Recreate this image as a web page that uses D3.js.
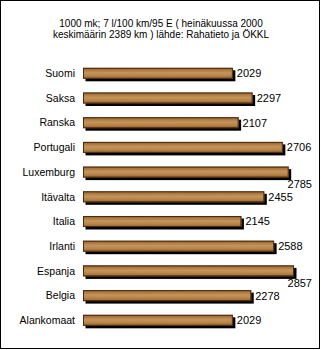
<!DOCTYPE html>
<html><head><meta charset="utf-8">
<script src="https://cdn.jsdelivr.net/npm/d3@7"></script>
<style>html,body{margin:0;padding:0;background:#fff;}svg{display:block;}</style>
</head><body>
<script>
const categories = ["Suomi","Saksa","Ranska","Portugali","Luxemburg","Itävalta","Italia","Irlanti","Espanja","Belgia","Alankomaat"];
const values = [2029,2297,2107,2706,2785,2455,2145,2588,2857,2278,2029];
const titleLines = ["1000 mk; 7 l/100 km/95 E ( heinäkuussa 2000","keskimäärin 2389 km ) lähde: Rahatieto ja ÖKKL"];

const W = 321, H = 350;
const svg = d3.select("body").append("svg").attr("width", W).attr("height", H);
const font = "'Liberation Sans', Arial, sans-serif";

const defs = svg.append("defs");
const grad = defs.append("linearGradient").attr("id","wood").attr("x1",0).attr("y1",0).attr("x2",0).attr("y2",1);
[[0,"#7c4e22"],[0.18,"#a8723a"],[0.45,"#c8955a"],[0.7,"#b98448"],[0.88,"#a06a32"],[1,"#86562a"]]
  .forEach(([o,c]) => grad.append("stop").attr("offset",o).attr("stop-color",c));
const f = defs.append("filter").attr("id","grain").attr("x",0).attr("y",0).attr("width",1).attr("height",1);
f.append("feTurbulence").attr("type","fractalNoise").attr("baseFrequency","0.2 0.8").attr("numOctaves",2).attr("seed",5).attr("result","n");
f.append("feColorMatrix").attr("in","n").attr("type","matrix")
  .attr("values","0 0 0 0 0.45  0 0 0 0 0.28  0 0 0 0 0.1  0 0 0 0.25 0").attr("result","c");
f.append("feComposite").attr("in","c").attr("in2","SourceGraphic").attr("operator","atop");

svg.append("rect").attr("x",0.5).attr("y",0.5).attr("width",319).attr("height",348)
  .attr("fill","#fff").attr("stroke","#000");

svg.append("g").selectAll("text").data(titleLines).join("text")
  .attr("x",161).attr("y",(d,i)=>27+i*11).attr("text-anchor","middle")
  .attr("font-family",font).attr("font-size","10px").attr("fill","#000").text(d=>d);

const x = d3.scaleLinear().domain([0,2857]).range([83,294]);
const y = d3.scalePoint().domain(categories).range([73.3,320.3]);
const bh = 11;

const g = svg.append("g");
const rows = g.selectAll("g.row").data(categories.map((c,i)=>({c,v:values[i]}))).join("g");
rows.append("rect").attr("x",x(0)+2.5).attr("y",d=>y(d.c)-bh/2+2.5)
  .attr("width",d=>x(d.v)-x(0)).attr("height",bh).attr("fill","#000");
rows.append("rect").attr("x",x(0)).attr("y",d=>y(d.c)-bh/2)
  .attr("width",d=>x(d.v)-x(0)).attr("height",bh).attr("fill","url(#wood)").attr("filter","url(#grain)");
rows.append("rect").attr("x",x(0)+0.5).attr("y",d=>y(d.c)-bh/2+0.5)
  .attr("width",d=>x(d.v)-x(0)-1).attr("height",bh-1).attr("fill","none").attr("stroke","#4a2a10").attr("stroke-width",1);
rows.append("text").attr("x",75).attr("y",d=>y(d.c)).attr("dy","0.36em").attr("text-anchor","end")
  .attr("font-family",font).attr("font-size","10.5px").text(d=>d.c);
rows.append("text")
  .attr("x",d=> x(d.v)+4+24 > 316 ? 312 : x(d.v)+4)
  .attr("y",d=> x(d.v)+4+24 > 316 ? y(d.c)+12 : y(d.c))
  .attr("dy","0.36em")
  .attr("text-anchor",d=> x(d.v)+4+24 > 316 ? "end" : "start")
  .attr("font-family",font).attr("font-size","11px").text(d=>d.v);
</script>
</body></html>
